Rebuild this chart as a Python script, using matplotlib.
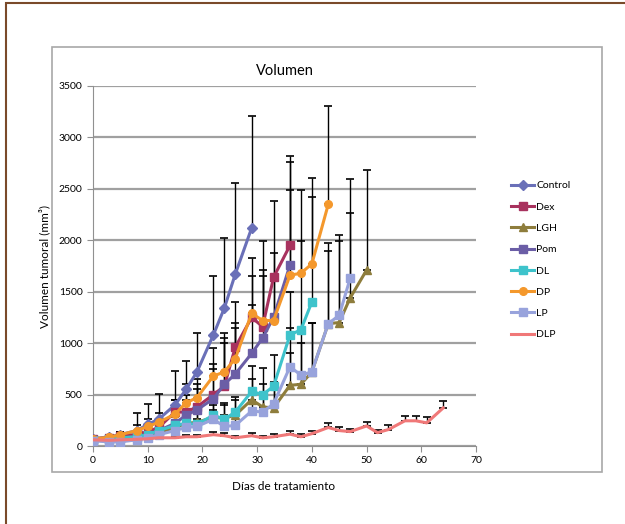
import numpy as np
import matplotlib
matplotlib.use("Agg")
import matplotlib.pyplot as plt
from matplotlib.patches import Rectangle

plt.rcParams['font.family'] = ['Lato', 'DejaVu Sans']

days = [0, 3, 5, 8, 10, 12, 15, 17, 19, 22, 24, 26, 29, 31, 33, 36, 38, 40,
        43, 45, 47, 50, 52, 54, 57, 59, 61, 64]

control = [70, 90, 110, 150, 210, 260, 400, 550, 720, 1080, 1340, 1670, 2120]
control_top = [90, 110, 140, 320, 410, 510, 730, 830, 1100, 1650, 2020, 2560, 3210]

dex = [70, 80, 100, 110, 140, 180, 330, 330, 380, 500, 580, 960, 1250, 1160, 1640, 1950]
dex_top = [80, 100, 130, 150, 200, 260, 450, 500, 600, 800, 1100, 1400, 1830, 1990, 2380, 2820]

lgh = [60, 60, 70, 80, 100, 130, 180, 220, 230, 280, 270, 300, 450, 380, 370, 590,
       600, 720, 1190, 1200, 1440, 1710]
lgh_top = [70, 80, 90, 110, 140, 180, 240, 300, 320, 400, 400, 450, 650, 600, 600, 900,
           1000, 1200, 1970, 2050, 2270, 2680]

pom = [60, 70, 80, 90, 110, 150, 220, 300, 350, 460, 600, 700, 900, 1050, 1250, 1760]
pom_top = [70, 90, 110, 140, 180, 240, 350, 450, 550, 750, 1000, 1150, 1370, 1650, 1880, 2760]

dl = [60, 70, 80, 90, 110, 150, 200, 220, 210, 300, 260, 330, 530, 500, 580, 1080, 1130, 1400]
dl_top = [70, 90, 100, 120, 150, 200, 280, 320, 330, 450, 420, 480, 780, 760, 880, 1500, 1990, 2420]

dp = [70, 85, 110, 150, 190, 230, 310, 420, 470, 680, 720, 850, 1290, 1220, 1220, 1660,
      1680, 1770, 2350]
dp_top = [90, 110, 140, 200, 260, 320, 450, 600, 650, 950, 1050, 1200, 1650, 1710, 1600, 2490,
          2490, 2610, 3310]

lp = [50, 40, 40, 60, 80, 110, 150, 180, 190, 260, 190, 200, 340, 330, 410, 770, 690, 720,
      1190, 1270, 1630]
lp_top = [60, 60, 60, 80, 110, 150, 200, 240, 260, 350, 300, 320, 500, 500, 620, 1150, 1100, 1200,
          1900, 1990, 2600]

dlp = [60, 55, 60, 65, 70, 80, 80, 90, 90, 110, 100, 80, 100, 80, 90, 115, 90, 120,
       180, 150, 140, 195, 130, 160, 245, 245, 225, 370]
dlp_top = [75, 70, 75, 80, 90, 100, 100, 110, 110, 135, 125, 100, 125, 100, 115, 150, 120, 150,
           220, 180, 170, 230, 160, 200, 290, 290, 280, 440]

series = [
    ("Control", control, control_top, "#6A70B8", "D"),
    ("Dex", dex, dex_top, "#A8325E", "s"),
    ("LGH", lgh, lgh_top, "#8E7D3C", "^"),
    ("Pom", pom, pom_top, "#6B5EA6", "s"),
    ("DL", dl, dl_top, "#3EC3CB", "s"),
    ("DP", dp, dp_top, "#F4982C", "o"),
    ("LP", lp, lp_top, "#98A3DC", "s"),
    ("DLP", dlp, dlp_top, "#F07878", None),
]

fig = plt.figure(figsize=(6.25, 5.24), dpi=100)

# outer brown frame and inner chart box
fig.patches.append(Rectangle((6 / 625, -0.1), 1.2, 1.1 - 3 / 524,
                             transform=fig.transFigure, fill=False,
                             edgecolor="#7A4A2A", linewidth=1.5))
fig.patches.append(Rectangle((52 / 625, 1 - 472 / 524), 550 / 625, 425 / 524,
                             transform=fig.transFigure, fill=False,
                             edgecolor="#A8A8A8", linewidth=1.2))

ax = fig.add_axes([93 / 625, 1 - 446 / 524, 383 / 625, 360 / 524])

handles = []
for name, vals, tops, color, marker in series:
    x = days[:len(vals)]
    err = np.array(tops) - np.array(vals)
    ax.errorbar(x, vals, yerr=[np.zeros(len(vals)), err], fmt="none",
                ecolor="black", elinewidth=1, capsize=3, capthick=1.2, zorder=2)
for name, vals, tops, color, marker in series:
    x = days[:len(vals)]
    h, = ax.plot(x, vals, color=color, lw=2.2, marker=marker, ms=5.5,
                 markeredgecolor=color, label=name, zorder=3)
    handles.append(h)

ax.set_xlim(0, 70)
ax.set_ylim(0, 3500)
ax.set_xticks(range(0, 71, 10))
ax.set_yticks(range(0, 3501, 500))
ax.yaxis.grid(True, color="#A0A0A0", lw=1.6)
ax.set_axisbelow(True)
for s in ["top", "right"]:
    ax.spines[s].set_visible(False)
for s in ["left", "bottom"]:
    ax.spines[s].set_color("#909090")
ax.tick_params(axis="both", labelsize=7.5, color="#909090", length=4)

ax.set_title("Volumen", fontsize=10.5, pad=8)
ax.set_ylabel("Volumen tumoral (mm³)", fontsize=8.5, labelpad=6)
fig.text(284 / 625, 1 - 487 / 524, "Días de tratamiento", fontsize=8.5,
         ha="center", va="center")

fig.legend(handles=handles, loc="upper left",
           bbox_to_anchor=(507 / 625, 1 - 177 / 524), frameon=False,
           fontsize=7.5, handlelength=2.2, handletextpad=0.2,
           labelspacing=1.15, borderaxespad=0)

fig.savefig("out.png", dpi=100)
